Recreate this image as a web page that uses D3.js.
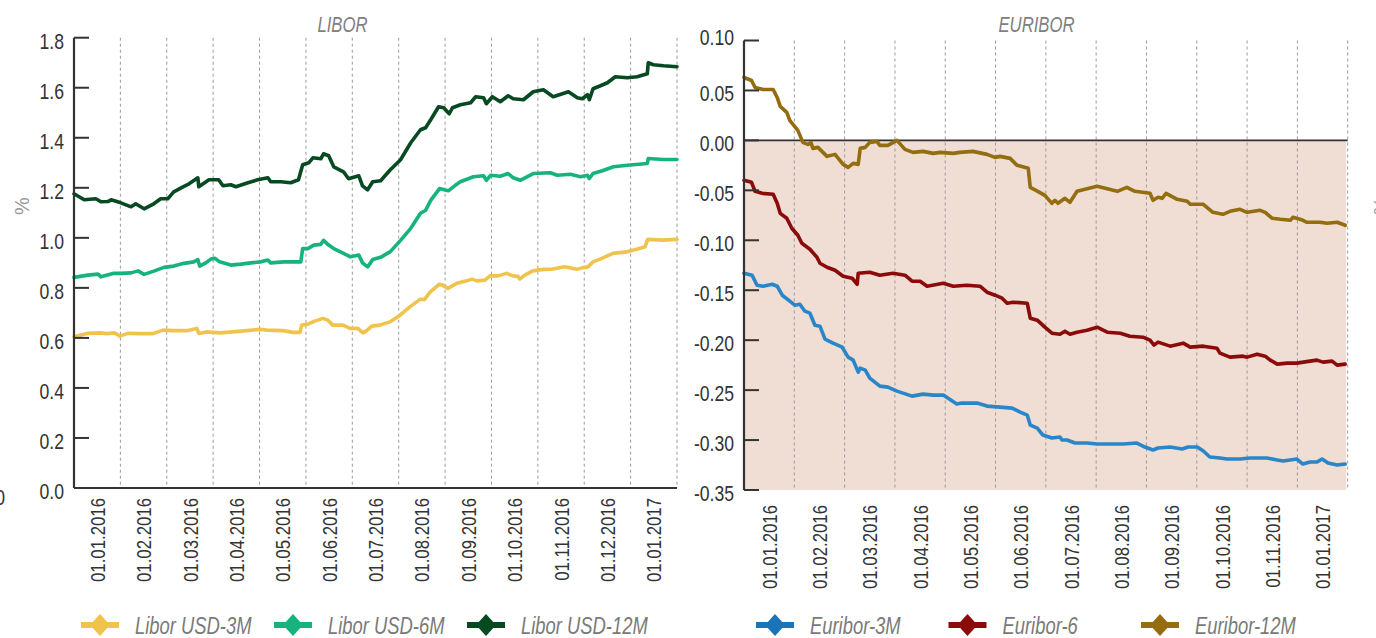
<!DOCTYPE html>
<html><head><meta charset="utf-8">
<script src="https://cdn.jsdelivr.net/npm/d3@7"></script>
<style>
body{margin:0;background:#fff;}
svg{display:block;font-family:"Liberation Sans",Arial,sans-serif;}
</style></head><body>
<svg id="c" width="1376" height="638"></svg>
<script>
// ---------- DATA ----------
const liborMonths = ["01.01.2016","01.02.2016","01.03.2016","01.04.2016","01.05.2016","01.06.2016","01.07.2016","01.08.2016","01.09.2016","01.10.2016","01.11.2016","01.12.2016","01.01.2017"];
const euriborMonths = ["01.01.2016","01.02.2016","01.03.2016","01.04.2016","01.05.2016","01.06.2016","01.07.2016","01.08.2016","01.09.2016","01.10.2016","01.11.2016","01.01.2017"];
const liborYTicks = [0,0.2,0.4,0.6,0.8,1.0,1.2,1.4,1.6,1.8];
const euriborYTicks = [-0.35,-0.30,-0.25,-0.20,-0.15,-0.10,-0.05,0.00,0.05,0.10];
const liborNames = ["Libor USD-3M","Libor USD-6M","Libor USD-12M"];
const euriborNames = ["Euribor-3M","Euribor-6","Euribor-12M"];

// [position in months from 01.01.2016, rate %]
const libor3M = [[0,.605],[.28,.618],[.56,.62],[.71,.617],[.88,.62],[.99,.607],[1.16,.618],[1.42,.617],[1.70,.617],[1.92,.631],[2.13,.629],[2.43,.629],[2.65,.638],[2.69,.618],[2.86,.624],[3.14,.62],[3.42,.624],[3.72,.629],[4.00,.634],[4.16,.631],[4.50,.629],[4.72,.622],[4.87,.622],[4.91,.651],[5.04,.655],[5.19,.667],[5.37,.678],[5.47,.671],[5.58,.651],[5.80,.651],[5.95,.638],[6.12,.638],[6.23,.62],[6.31,.629],[6.42,.647],[6.59,.651],[6.81,.664],[7.03,.691],[7.24,.724],[7.46,.754],[7.56,.754],[7.67,.782],[7.87,.814],[7.95,.811],[8.06,.798],[8.25,.818],[8.47,.828],[8.58,.835],[8.69,.828],[8.86,.831],[8.97,.848],[9.14,.848],[9.33,.858],[9.46,.848],[9.57,.846],[9.61,.835],[9.72,.851],[9.89,.868],[10.11,.874],[10.32,.875],[10.58,.884],[10.84,.874],[10.95,.88],[11.08,.884],[11.19,.904],[11.38,.918],[11.62,.938],[11.92,.944],[12.13,.954],[12.31,.964],[12.37,.994],[12.69,.991],[13,.994]];
const libor6M = [[0,.842],[.30,.851],[.52,.855],[.58,.844],[.86,.858],[1.01,.858],[1.23,.86],[1.38,.868],[1.51,.854],[1.72,.867],[1.94,.882],[2.15,.887],[2.37,.898],[2.58,.904],[2.67,.913],[2.71,.887],[2.84,.90],[2.95,.915],[3.04,.918],[3.14,.904],[3.38,.891],[3.60,.895],[3.81,.90],[4.03,.904],[4.18,.911],[4.24,.90],[4.52,.904],[4.89,.904],[4.93,.957],[5.04,.957],[5.17,.971],[5.32,.974],[5.38,.99],[5.49,.971],[5.60,.957],[5.81,.938],[5.96,.924],[6.14,.931],[6.22,.90],[6.33,.884],[6.44,.913],[6.61,.922],[6.82,.945],[7.04,.99],[7.26,1.038],[7.47,1.098],[7.58,1.11],[7.69,1.15],[7.88,1.197],[8.07,1.188],[8.22,1.21],[8.33,1.224],[8.61,1.244],[8.83,1.248],[8.89,1.23],[8.98,1.25],[9.19,1.246],[9.36,1.257],[9.47,1.24],[9.62,1.23],[9.90,1.257],[10.27,1.26],[10.42,1.25],[10.70,1.254],[10.92,1.244],[11.07,1.25],[11.11,1.237],[11.19,1.257],[11.39,1.268],[11.63,1.284],[11.93,1.29],[12.36,1.297],[12.38,1.317],[12.71,1.313],[13,1.313]];
const libor12M = [[0,1.176],[.22,1.152],[.47,1.156],[.58,1.144],[.73,1.145],[.80,1.152],[1.01,1.14],[1.23,1.124],[1.33,1.136],[1.51,1.116],[1.72,1.136],[1.87,1.156],[2.02,1.156],[2.15,1.184],[2.35,1.204],[2.48,1.216],[2.67,1.24],[2.69,1.204],[2.91,1.232],[3.12,1.232],[3.21,1.208],[3.38,1.212],[3.49,1.204],[3.75,1.22],[3.96,1.232],[4.18,1.24],[4.24,1.224],[4.46,1.224],[4.67,1.22],[4.84,1.232],[4.93,1.292],[5.06,1.30],[5.15,1.32],[5.32,1.316],[5.38,1.336],[5.49,1.328],[5.60,1.284],[5.81,1.264],[5.92,1.236],[6.14,1.248],[6.22,1.208],[6.33,1.192],[6.44,1.224],[6.61,1.228],[6.82,1.272],[7.04,1.312],[7.26,1.38],[7.47,1.432],[7.58,1.44],[7.69,1.472],[7.86,1.524],[7.97,1.52],[8.09,1.496],[8.16,1.52],[8.33,1.532],[8.55,1.54],[8.66,1.564],[8.83,1.56],[8.89,1.536],[9.02,1.564],[9.19,1.544],[9.36,1.568],[9.47,1.556],[9.69,1.552],[9.90,1.584],[10.12,1.592],[10.33,1.564],[10.66,1.584],[10.85,1.56],[10.96,1.556],[11.07,1.572],[11.11,1.552],[11.19,1.596],[11.35,1.608],[11.50,1.62],[11.67,1.644],[11.93,1.64],[12.14,1.644],[12.36,1.656],[12.38,1.70],[12.49,1.692],[12.71,1.688],[13,1.684]];

const euribor3M = [[0,-.133],[.16,-.135],[.26,-.145],[.38,-.146],[.56,-.144],[.66,-.146],[.76,-.155],[.91,-.161],[1.01,-.165],[1.11,-.164],[1.21,-.171],[1.31,-.173],[1.41,-.185],[1.51,-.186],[1.61,-.199],[1.77,-.203],[1.95,-.207],[2.07,-.217],[2.17,-.22],[2.27,-.232],[2.31,-.228],[2.41,-.23],[2.50,-.238],[2.70,-.246],[2.86,-.247],[3.04,-.251],[3.16,-.253],[3.34,-.256],[3.56,-.254],[3.76,-.255],[3.96,-.255],[4.23,-.264],[4.33,-.263],[4.63,-.263],[4.83,-.266],[5.09,-.267],[5.33,-.268],[5.49,-.272],[5.63,-.275],[5.69,-.285],[5.83,-.288],[5.94,-.295],[6.12,-.298],[6.28,-.297],[6.32,-.30],[6.42,-.30],[6.58,-.303],[6.82,-.303],[7.02,-.304],[7.28,-.304],[7.53,-.304],[7.81,-.303],[7.97,-.307],[8.13,-.31],[8.23,-.308],[8.47,-.307],[8.71,-.309],[8.83,-.307],[9.01,-.307],[9.13,-.311],[9.26,-.317],[9.46,-.318],[9.60,-.319],[9.86,-.319],[10.06,-.318],[10.40,-.318],[10.60,-.32],[10.72,-.321],[10.99,-.319],[11.11,-.324],[11.25,-.322],[11.39,-.322],[11.49,-.319],[11.61,-.323],[11.79,-.325],[11.95,-.324]];
const euribor6M = [[0,-.04],[.15,-.042],[.22,-.051],[.36,-.053],[.58,-.054],[.66,-.063],[.72,-.073],[.85,-.078],[.95,-.088],[1.07,-.095],[1.15,-.103],[1.31,-.109],[1.45,-.117],[1.51,-.123],[1.65,-.127],[1.81,-.13],[1.97,-.136],[2.15,-.138],[2.25,-.144],[2.27,-.133],[2.50,-.132],[2.70,-.135],[2.96,-.133],[3.20,-.135],[3.34,-.141],[3.50,-.141],[3.64,-.146],[3.96,-.143],[4.16,-.146],[4.43,-.145],[4.69,-.146],[4.83,-.152],[4.99,-.155],[5.13,-.158],[5.23,-.163],[5.35,-.162],[5.63,-.163],[5.69,-.178],[5.83,-.18],[5.98,-.187],[6.12,-.193],[6.28,-.194],[6.38,-.191],[6.48,-.194],[6.62,-.192],[6.82,-.19],[7.02,-.187],[7.22,-.192],[7.48,-.193],[7.67,-.196],[7.93,-.197],[8.07,-.20],[8.15,-.205],[8.23,-.202],[8.47,-.206],[8.73,-.203],[8.87,-.207],[9.13,-.206],[9.40,-.208],[9.46,-.213],[9.66,-.217],[9.92,-.216],[10.00,-.217],[10.20,-.214],[10.36,-.216],[10.46,-.22],[10.60,-.224],[10.80,-.223],[10.99,-.223],[11.25,-.221],[11.39,-.22],[11.51,-.222],[11.69,-.221],[11.79,-.225],[11.95,-.224]];
const euribor12M = [[0,.063],[.15,.06],[.22,.053],[.38,.051],[.58,.051],[.66,.043],[.72,.034],[.85,.028],[.91,.02],[1.07,.01],[1.17,-.002],[1.27,-.004],[1.33,-.002],[1.37,-.008],[1.47,-.007],[1.65,-.016],[1.81,-.014],[1.97,-.024],[2.07,-.027],[2.17,-.023],[2.27,-.024],[2.31,-.008],[2.41,-.007],[2.50,-.002],[2.64,-.001],[2.70,-.005],[2.86,-.005],[3.04,0],[3.20,-.009],[3.36,-.012],[3.56,-.011],[3.76,-.013],[3.90,-.012],[4.16,-.013],[4.29,-.012],[4.55,-.011],[4.83,-.014],[4.99,-.017],[5.09,-.016],[5.29,-.018],[5.43,-.025],[5.65,-.028],[5.69,-.047],[5.84,-.051],[5.98,-.055],[6.12,-.063],[6.18,-.06],[6.24,-.063],[6.38,-.058],[6.48,-.062],[6.62,-.051],[6.78,-.049],[7.02,-.046],[7.18,-.048],[7.42,-.051],[7.61,-.047],[7.77,-.051],[8.07,-.053],[8.13,-.06],[8.23,-.057],[8.31,-.058],[8.39,-.053],[8.61,-.059],[8.81,-.061],[8.87,-.064],[9.13,-.064],[9.32,-.072],[9.52,-.074],[9.66,-.071],[9.86,-.069],[10.00,-.072],[10.26,-.07],[10.36,-.072],[10.50,-.078],[10.66,-.079],[10.86,-.08],[10.91,-.077],[11.05,-.079],[11.11,-.08],[11.19,-.082],[11.45,-.082],[11.59,-.083],[11.79,-.082],[11.95,-.085]];

// ---------- STYLE / LAYOUT ----------
const liborColors = ["#f0c44c","#17b37e","#074a22"];
const euriborColors = ["#2886c9","#8b0b0b","#936d0e"];
const euriborLegendColors = ["#1c74b8","#8b0b0b","#936d0e"];
const NARROW = 0.8; // horizontal condensing of text

const svg = d3.select("#c");

function panel(o){
  const g = svg.append("g");
  const xBand = d3.scaleBand().domain(o.months).range([o.x0, o.x1]).padding(0);
  const xT = d3.scaleLinear().domain([0, o.months.length]).range([o.x0, o.x1]);
  const y = d3.scaleLinear().domain(o.yDomain).range([o.yBot, o.yTop]);

  if (o.shade) {
    g.append("rect").attr("x", o.x0).attr("y", y(0))
      .attr("width", o.x1 - o.x0 - 1.5).attr("height", o.yBot - y(0))
      .attr("fill", "#f0ddd4");
  }
  g.selectAll("line.grid").data(o.months).join("line").attr("class","grid")
    .attr("x1", d => xBand(d) + xBand.bandwidth()).attr("x2", d => xBand(d) + xBand.bandwidth())
    .attr("y1", o.yTop).attr("y2", o.yBot)
    .attr("stroke", "#9a9a9a").attr("stroke-width", 1).attr("stroke-dasharray", "3,3");

  if (o.shade) {
    g.append("line").attr("x1", o.x0).attr("x2", o.x1).attr("y1", y(0)).attr("y2", y(0))
      .attr("stroke", "#333").attr("stroke-width", 1.6);
  }

  const line = d3.line().x(d => xT(d[0])).y(d => y(d[1]));
  o.series.forEach((s, i) => {
    g.append("path").datum(s).attr("d", line).attr("fill", "none")
      .attr("stroke", o.colors[i]).attr("stroke-width", 3.6)
      .attr("stroke-linejoin", "round").attr("stroke-linecap", "round");
  });

  const ax = g.append("g");
  ax.append("line").attr("x1", o.x0).attr("x2", o.x0).attr("y1", o.yTop).attr("y2", o.yBot)
    .attr("stroke", "#333").attr("stroke-width", 2.2);
  ax.selectAll("line.tk").data(o.yTicks).join("line").attr("class","tk")
    .attr("x1", o.x0).attr("x2", o.x0 + 15).attr("y1", d => y(d)).attr("y2", d => y(d))
    .attr("stroke", "#333").attr("stroke-width", 2);
  ax.selectAll("text.tl").data(o.yTicks).join("text").attr("class","tl")
    .attr("transform", d => `translate(${o.x0 - 10},${y(d) + ((o.topShift && d === o.yDomain[1]) ? 4.5 : 11)}) scale(${NARROW},1)`)
    .attr("text-anchor", "end").attr("font-size", 22).attr("fill", "#333")
    .text(d => d.toFixed(o.dec));
  if (o.bottomAxis) {
    ax.append("line").attr("x1", o.x0).attr("x2", o.x1).attr("y1", o.yBot).attr("y2", o.yBot)
      .attr("stroke", "#333").attr("stroke-width", 2.2);
  }
  g.selectAll("text.xl").data(o.months).join("text").attr("class","xl")
    .attr("transform", d => `translate(${xBand(d) + xBand.bandwidth()/2},${o.xLabelTop}) rotate(-90) scale(${NARROW},1)`)
    .attr("dy", "0.36em").attr("text-anchor", "end").attr("font-size", 21).attr("fill", "#333")
    .text(d => d);

  g.append("text").attr("transform", `translate(${o.titleX},32) scale(0.76,1)`).attr("text-anchor", "middle")
    .attr("font-size", 22).attr("font-style", "italic").attr("fill", "#808080").text(o.title);

  const lg = g.selectAll("g.lg").data(o.names).join("g").attr("class","lg")
    .attr("transform", (d, i) => `translate(${o.legendX + i * o.legendStep},625)`);
  lg.append("line").attr("x1", -19).attr("x2", 19).attr("y1", 0).attr("y2", 0)
    .attr("stroke", (d, i) => o.legendColors[i]).attr("stroke-width", 6);
  lg.append("path").attr("d", "M0,-11L10,0L0,11L-10,0Z").attr("fill", (d, i) => o.legendColors[i]);
  lg.append("text").attr("transform", `translate(35,8.5) scale(${NARROW},1)`).attr("font-size", 23).attr("font-style", "italic")
    .attr("fill", "#7a7a7a").text(d => d);
}

panel({months: liborMonths, x0: 74, x1: 677, yTop: 37.7, yBot: 488, yDomain: [0, 1.8],
  yTicks: liborYTicks, dec: 1, series: [libor3M, libor6M, libor12M], colors: liborColors,
  legendColors: liborColors, names: liborNames, legendX: 100, legendStep: 193,
  title: "LIBOR", titleX: 342.5, bottomAxis: true, xLabelTop: 498});

panel({months: euriborMonths, x0: 744, x1: 1347.7, yTop: 40.5, yBot: 490, yDomain: [-0.35, 0.10],
  yTicks: euriborYTicks, dec: 2, series: [euribor3M, euribor6M, euribor12M], colors: euriborColors,
  legendColors: euriborLegendColors, names: euriborNames, legendX: 775, legendStep: 192.5,
  title: "EURIBOR", titleX: 1036.5, shade: true, topShift: true, xLabelTop: 505});

svg.append("text").attr("transform", "translate(22,206) rotate(-90)").attr("dy", "0.35em")
  .attr("text-anchor", "middle").attr("font-size", 20).attr("fill", "#9a9a9a").text("%");
svg.append("text").attr("transform", "translate(1381,206) rotate(-90)").attr("dy", "0.35em")
  .attr("text-anchor", "middle").attr("font-size", 20).attr("fill", "#9a9a9a").text("%");
svg.append("text").attr("transform", "translate(5,505) scale(0.8,1)").attr("text-anchor", "end")
  .attr("font-size", 22).attr("fill", "#333").text("0");
</script>
</body></html>
